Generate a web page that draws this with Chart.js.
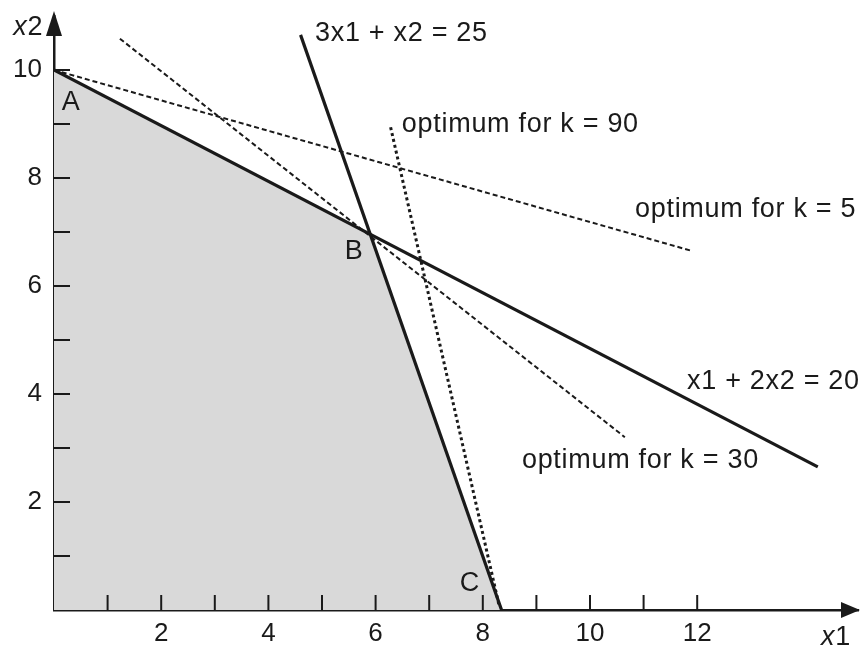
<!DOCTYPE html>
<html>
<head>
<meta charset="utf-8">
<script src="https://cdn.jsdelivr.net/npm/chart.js@4.4.1/dist/chart.umd.min.js"></script>
<style>
  html, body { margin: 0; padding: 0; background: #fff; }
  #wrap { width: 860px; height: 645px; }
</style>
</head>
<body>
<div id="wrap"><canvas id="lp"></canvas></div>
<script>
// feasible region corners A, B, C (filled down to x2 = 0)
const regionX = [0, 5.9, 8.35];
const regionY = [10, 6.95, 0];
// constraint x1 + 2x2 = 20
const c1X = [0, 14.25];
const c1Y = [10, 2.65];
// constraint 3x1 + x2 = 25
const c2X = [4.6, 8.35];
const c2Y = [10.65, 0];
// objective lines through the optimum
const k5X = [0, 11.9];
const k5Y = [10, 6.65];
const k30X = [1.23, 10.65];
const k30Y = [10.58, 3.2];
const k90X = [6.28, 8.3];
const k90Y = [8.94, 0.1];
// axis ticks and labels
const xTicks = [1, 2, 3, 4, 5, 6, 7, 8, 9, 10, 11, 12];
const yTicks = [1, 2, 3, 4, 5, 6, 7, 8, 9, 10];
const xTickLabels = [2, 4, 6, 8, 10, 12];
const yTickLabels = [2, 4, 6, 8, 10];

const FONT = '"Liberation Sans", Arial, sans-serif';
const INK = '#1a1a1a';

function pts(xs, ys) {
    return xs.map((x, i) => ({ x: x, y: ys[i] }));
}

// text placed in data coordinates (cap-centre)
const notes = [
    { parts: [['3x1 + x2 = 25', false]], x: 4.87, y: 10.72, align: 'left' },
    { parts: [['optimum for k = 90', false]], x: 6.49, y: 9.04, align: 'left' },
    { parts: [['optimum for k = 5', false]], x: 10.84, y: 7.46, align: 'left' },
    { parts: [['x1 + 2x2 = 20', false]], x: 11.81, y: 4.28, align: 'left' },
    { parts: [['optimum for k = 30', false]], x: 8.73, y: 2.8, align: 'left' },
    { parts: [['A', false]], x: 0.32, y: 9.43, align: 'center' },
    { parts: [['B', false]], x: 5.6, y: 6.67, align: 'center' },
    { parts: [['C', false]], x: 7.76, y: 0.54, align: 'center' },
    { parts: [['x', true], ['1', false]], x: 14.59, y: -0.46, align: 'center' },
    { parts: [['x', true], ['2', false]], x: -0.48, y: 10.83, align: 'center' }
];

const decor = {
    id: 'decor',
    afterDraw(chart) {
        const c = chart.ctx;
        const xs = chart.scales.x, ys = chart.scales.y;
        const x0 = xs.getPixelForValue(0), y0 = ys.getPixelForValue(0);
        c.save();
        c.strokeStyle = INK;
        c.fillStyle = INK;
        c.lineWidth = 2;
        // inward tick marks
        xTicks.forEach(v => {
            const px = xs.getPixelForValue(v);
            c.beginPath(); c.moveTo(px, y0); c.lineTo(px, y0 - 15); c.stroke();
        });
        yTicks.forEach(v => {
            const py = ys.getPixelForValue(v);
            c.beginPath(); c.moveTo(x0, py); c.lineTo(x0 + 16, py); c.stroke();
        });
        // arrow heads
        const xEnd = xs.getPixelForValue(xs.max) + 2;
        c.beginPath();
        c.moveTo(xEnd, y0); c.lineTo(xEnd - 19, y0 - 8); c.lineTo(xEnd - 19, y0 + 8);
        c.closePath(); c.fill();
        const yEnd = ys.getPixelForValue(ys.max) - 5;
        c.beginPath();
        c.moveTo(x0, yEnd); c.lineTo(x0 - 8, yEnd + 25); c.lineTo(x0 + 8, yEnd + 25);
        c.closePath(); c.fill();

        // annotations
        const size = 27;
        c.textBaseline = 'alphabetic';
        c.textAlign = 'left';
        c.letterSpacing = '0.7px';
        notes.forEach(n => {
            let w = 0;
            n.parts.forEach(p => {
                c.font = (p[1] ? 'italic ' : '') + size + 'px ' + FONT;
                w += c.measureText(p[0]).width;
            });
            let px = xs.getPixelForValue(n.x);
            if (n.align === 'center') px -= w / 2;
            const py = ys.getPixelForValue(n.y) + size * 0.716 / 2;
            n.parts.forEach(p => {
                c.font = (p[1] ? 'italic ' : '') + size + 'px ' + FONT;
                c.fillText(p[0], px, py);
                px += c.measureText(p[0]).width;
            });
        });
        c.restore();
    }
};

const lineStyle = {
    showLine: true, fill: false, pointRadius: 0, borderColor: INK
};

new Chart(document.getElementById('lp'), {
    type: 'scatter',
    data: {
        datasets: [
            {
                label: 'feasible region',
                data: pts(regionX, regionY),
                showLine: true, fill: 'origin', pointRadius: 0,
                borderWidth: 0, borderColor: 'rgba(0,0,0,0)',
                backgroundColor: '#d9d9d9', order: 10
            },
            Object.assign({ label: 'x1 + 2x2 = 20', data: pts(c1X, c1Y), borderWidth: 3.2 }, lineStyle),
            Object.assign({ label: '3x1 + x2 = 25', data: pts(c2X, c2Y), borderWidth: 3.2 }, lineStyle),
            Object.assign({ label: 'k = 5', data: pts(k5X, k5Y), borderWidth: 2, borderDash: [5, 3] }, lineStyle),
            Object.assign({ label: 'k = 30', data: pts(k30X, k30Y), borderWidth: 2, borderDash: [5, 3] }, lineStyle),
            Object.assign({ label: 'k = 90', data: pts(k90X, k90Y), borderWidth: 3, borderDash: [3, 3] }, lineStyle)
        ]
    },
    options: {
        responsive: true,
        maintainAspectRatio: false,
        animation: false,
        layout: { padding: { top: 16, right: 2, left: 0, bottom: 0 } },
        plugins: { legend: { display: false }, tooltip: { enabled: false } },
        scales: {
            x: {
                type: 'linear', min: 0, max: 15, z: 1,
                grid: { display: false, drawTicks: false },
                border: { display: true, color: INK, width: 2.5 },
                ticks: {
                    stepSize: 1, autoSkip: false, maxRotation: 0, padding: 8,
                    color: INK, font: { family: FONT, size: 26 },
                    callback: v => xTickLabels.includes(v) ? String(v) : ''
                },
                afterFit(s) { s.height = 35; s.paddingLeft = 0; s.paddingRight = 0; }
            },
            y: {
                type: 'linear', min: 0, max: 11, z: 1,
                grid: { display: false, drawTicks: false },
                border: { display: true, color: INK, width: 2.5 },
                ticks: {
                    stepSize: 1, autoSkip: false, padding: 12,
                    color: INK, font: { family: FONT, size: 26 },
                    callback: v => yTickLabels.includes(v) ? String(v) : ''
                },
                afterFit(s) { s.width = 54; s.paddingTop = 0; s.paddingBottom = 0; }
            }
        }
    },
    plugins: [decor]
});
</script>
</body>
</html>
